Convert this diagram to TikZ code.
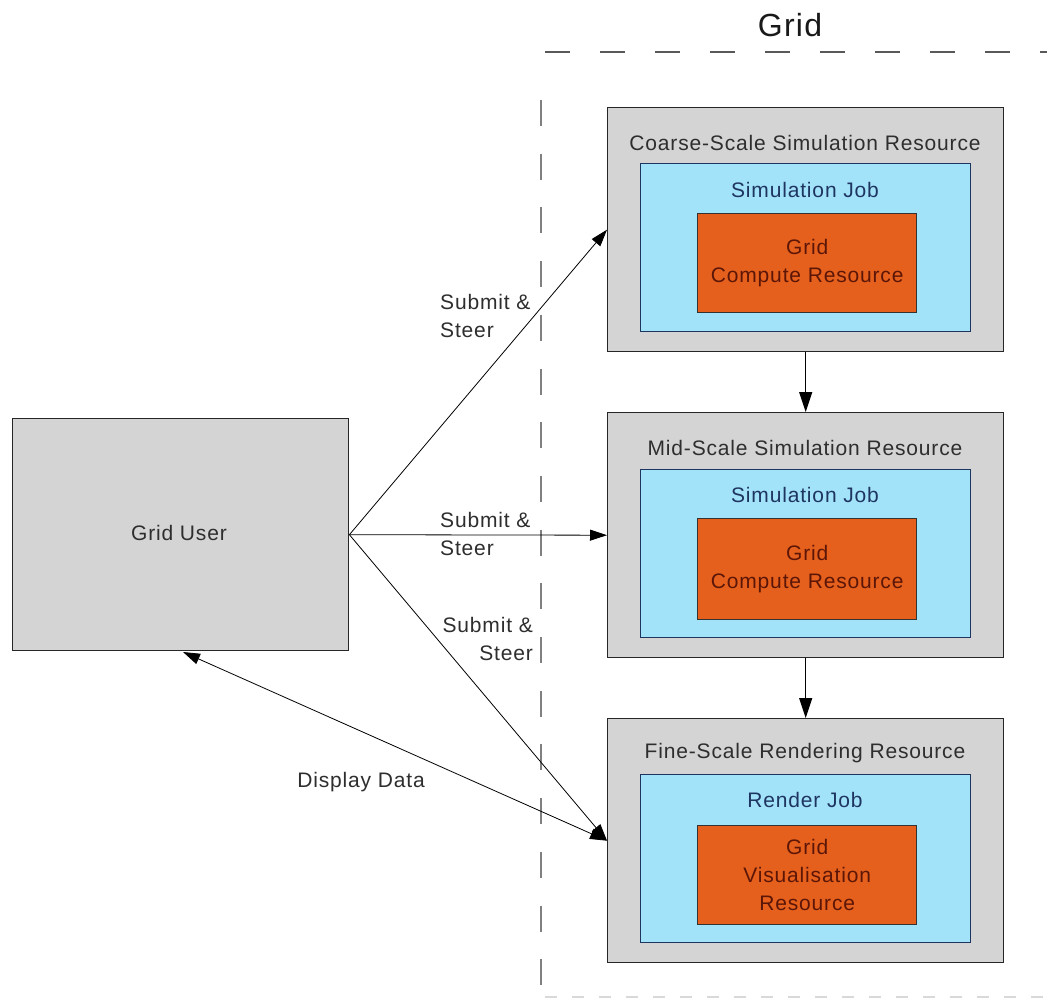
\documentclass[tikz,border=0pt]{standalone}
\usepackage{fontspec}
\setmainfont{Liberation Sans}[LetterSpace=4]
\usetikzlibrary{arrows.meta}
\definecolor{boxgray}{HTML}{D4D4D4}
\definecolor{jobblue}{HTML}{A3E3FA}
\definecolor{resorange}{HTML}{E5601C}
\definecolor{navytext}{HTML}{1E3560}
\definecolor{redtext}{HTML}{5C1608}
\definecolor{graytext}{HTML}{2E2E2E}
\newcommand\lblfont{\fontsize{21}{28}\selectfont}
\begin{document}
\begin{tikzpicture}[x=1pt,y=-1pt,
  graybox/.style={draw=black!85, line width=1.4pt, fill=boxgray, inner sep=0pt, anchor=north west},
  bluebox/.style={draw=navytext, line width=1.4pt, fill=jobblue, inner sep=0pt, anchor=north west},
  orangebox/.style={draw=black!80, line width=1.4pt, fill=resorange, inner sep=0pt, anchor=north west,
      text=redtext, font=\lblfont, align=center},
  titletext/.style={text=graytext, font=\lblfont, inner sep=0pt},
  jobtext/.style={text=navytext, font=\lblfont, inner sep=0pt},
  edgelabel/.style={text=graytext, font=\lblfont, inner sep=0pt},
  conn/.style={-{Triangle[length=17pt,width=11pt]}, line width=0.8pt, black},
  biconn/.style={{Triangle[length=17pt,width=11pt]}-{Triangle[length=17pt,width=11pt]}, line width=0.8pt, black},
  flow/.style={-{Triangle[length=20pt,width=13pt]}, line width=1.1pt, black},
  region/.style={line width=1.2pt}
]
\fill[white] (0,0) rectangle (1047,1000);
\useasboundingbox (0,0) rectangle (1047,1000);

% Grid region
\node[font=\fontsize{32}{38}\selectfont, text=black!90, inner sep=0pt] (gridtitle) at (790,25) {Grid};
\draw[region, draw=black!65, dash pattern=on 25pt off 30pt] (545,52) -- (1047,52);
\draw[region, draw=black!50, dash pattern=on 26pt off 27.7pt] (541,100) -- (541,1000);
\draw[line width=1.5pt, draw=black!15, dash pattern=on 12pt off 15pt] (545,997) -- (1047,997);

% Grid User
\node[graybox, minimum width=336pt, minimum height=232pt] (user) at (12,418) {};
\node[titletext] (usertext) at (179,533) {Grid User};

% Coarse-scale
\node[graybox, minimum width=396pt, minimum height=244pt] (coarse) at (607,107) {};
\node[titletext] (coarsetitle) at (805,143) {Coarse-Scale Simulation Resource};
\node[bluebox, minimum width=330pt, minimum height=168pt] (coarsejob) at (640,163) {};
\node[jobtext] (coarsejobtext) at (805,190) {Simulation Job};
\node[orangebox, minimum width=219pt, minimum height=99pt] (coarseres) at (697,213) {Grid\\Compute Resource};

% Mid-scale
\node[graybox, minimum width=396pt, minimum height=245pt] (mid) at (607,412) {};
\node[titletext] (midtitle) at (805,448) {Mid-Scale Simulation Resource};
\node[bluebox, minimum width=330pt, minimum height=168pt] (midjob) at (640,469) {};
\node[jobtext] (midjobtext) at (805,495) {Simulation Job};
\node[orangebox, minimum width=219pt, minimum height=101pt] (midres) at (697,518) {Grid\\Compute Resource};

% Fine-scale
\node[graybox, minimum width=396pt, minimum height=244pt] (fine) at (607,718) {};
\node[titletext] (finetitle) at (805,753) {Fine-Scale Rendering Resource};
\node[bluebox, minimum width=330pt, minimum height=168pt] (finejob) at (640,774) {};
\node[jobtext] (finejobtext) at (805,800) {Render Job};
\node[orangebox, minimum width=219pt, minimum height=99pt] (fineres) at (697,825) {Grid\\Visualisation\\Resource};

% flow arrows between resources
\draw[flow] (coarse.south) -- (mid.north);
\draw[flow] (mid.south) -- (fine.north);

% submit & steer
\draw[conn] (user.east) -- (coarse.west);
\draw[conn] (user.east) -- (mid.west);
\draw[conn] (user.east) -- (fine.west);
\coordinate (ddend) at (183,652);
\draw[biconn] (ddend) -- (fine.west);

% labels
\node[edgelabel, anchor=west, align=left] (lbl1) at (440,316) {Submit \&\\Steer};
\node[edgelabel, anchor=west, align=left] (lbl2) at (440,534) {Submit \&\\Steer};
\node[edgelabel, anchor=east, align=right] (lbl3) at (533,639) {Submit \&\\Steer};
\node[edgelabel] (lbl4) at (361,782) {Display Data};
\end{tikzpicture}
\end{document}
